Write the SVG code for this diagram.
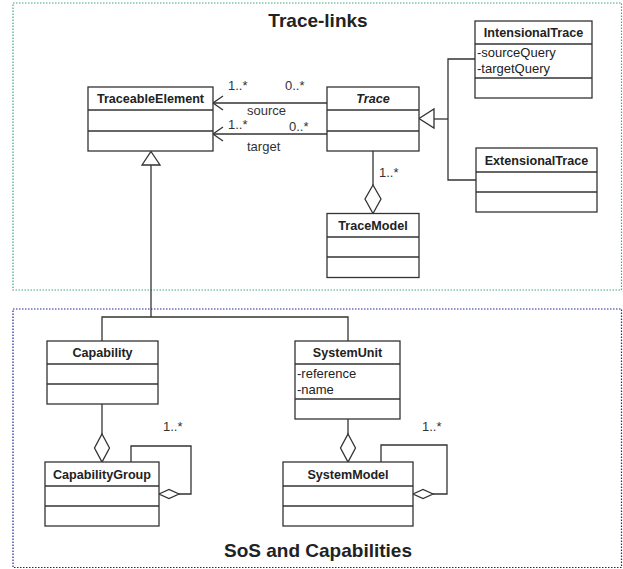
<svg xmlns="http://www.w3.org/2000/svg" width="623" height="569" viewBox="0 0 623 569">
<style>
.box{fill:#fff;stroke:#333;stroke-width:1.3}
.ln{fill:none;stroke:#333;stroke-width:1.3}
.cn{font-family:"Liberation Sans",Arial,sans-serif;font-weight:bold;font-size:12.6px;fill:#222;text-anchor:middle}
.at{font-family:"Liberation Sans",Arial,sans-serif;font-size:13px;fill:#222}
.lb{font-family:"Liberation Sans",Arial,sans-serif;font-size:13px;fill:#333}
.ti{font-family:"Liberation Sans",Arial,sans-serif;font-weight:bold;font-size:19px;fill:#222;text-anchor:middle}
.open{fill:none;stroke:#333;stroke-width:1.3}
.tri{fill:#fff;stroke:#333;stroke-width:1.3}
.dia{fill:#fff;stroke:#333;stroke-width:1.3}
</style>
<rect width="623" height="569" fill="#fff"/>
<g id="pkg-trace">
<rect x="13" y="3" width="608.5" height="287" fill="none" stroke="#3daa78" stroke-width="1.2" stroke-dasharray="1.5 1.5"/>
<text class="ti" x="318" y="27">Trace-links</text>
</g>
<g id="pkg-sos">
<rect x="13" y="309" width="608.5" height="258.5" fill="none" stroke="#22229a" stroke-width="1.2" stroke-dasharray="1.5 1.5"/>
<text class="ti" x="318" y="557">SoS and Capabilities</text>
</g>
<g id="connectors">
<!-- source / target associations -->
<line class="ln" x1="213" y1="103" x2="327" y2="103"/>
<polyline class="open" points="223,96 213,103 223,110"/>
<line class="ln" x1="213" y1="134" x2="327" y2="134"/>
<polyline class="open" points="223,127 213,134 223,141"/>
<text class="lb" x="228" y="90">1..*</text>
<text class="lb" x="285" y="90">0..*</text>
<text class="lb" x="247" y="115">source</text>
<text class="lb" x="228" y="129">1..*</text>
<text class="lb" x="289" y="131">0..*</text>
<text class="lb" x="247" y="151">target</text>
<!-- generalization to Trace -->
<polyline class="ln" points="475,59 448,59 448,180 476,180"/>
<line class="ln" x1="434" y1="119" x2="448" y2="119"/>
<polygon class="tri" points="419,118.5 434,109 434,128"/>
<!-- Trace - TraceModel aggregation -->
<line class="ln" x1="373" y1="151" x2="373" y2="185"/>
<polygon class="dia" points="373,185 381,199 373,213.5 365,199"/>
<text class="lb" x="379" y="177">1..*</text>
<!-- generalization to TraceableElement -->
<polyline class="ln" points="151,165 151,317"/>
<polyline class="ln" points="102,341 102,317 348,317 348,341"/>
<polygon class="tri" points="151,151.5 160,165 142,165"/>
<!-- Capability - CapabilityGroup -->
<line class="ln" x1="102" y1="404" x2="102" y2="434"/>
<polygon class="dia" points="102,434 109.5,448 102,462 94.5,448"/>
<polyline class="ln" points="131,462 131,446 191,446 191,494 179,494"/>
<polygon class="dia" points="159,494 169,489.5 179,494 169,498.5"/>
<text class="lb" x="163" y="431">1..*</text>
<!-- SystemUnit - SystemModel -->
<line class="ln" x1="348" y1="419" x2="348" y2="434"/>
<polygon class="dia" points="348,434 355.5,448 348,462 340.5,448"/>
<polyline class="ln" points="381,462 381,445 447,445 447,494 433,494"/>
<polygon class="dia" points="413,494 423,489.5 433,494 423,498.5"/>
<text class="lb" x="422" y="431">1..*</text>
</g>
<g id="TraceableElement">
<rect class="box" x="88" y="87" width="125" height="64"/>
<line class="ln" x1="88" y1="110" x2="213" y2="110"/>
<line class="ln" x1="88" y1="131" x2="213" y2="131"/>
<text class="cn" x="150.5" y="103">TraceableElement</text>
</g>
<g id="Trace">
<rect class="box" x="327" y="87" width="92" height="64"/>
<line class="ln" x1="327" y1="110" x2="419" y2="110"/>
<line class="ln" x1="327" y1="131" x2="419" y2="131"/>
<text class="cn" x="373" y="103" font-style="italic">Trace</text>
</g>
<g id="IntensionalTrace">
<rect class="box" x="475" y="21" width="117" height="77"/>
<line class="ln" x1="475" y1="44" x2="592" y2="44"/>
<line class="ln" x1="475" y1="78" x2="592" y2="78"/>
<text class="cn" x="533.5" y="37">IntensionalTrace</text>
<text class="at" x="477" y="57">-sourceQuery</text>
<text class="at" x="477" y="73">-targetQuery</text>
</g>
<g id="ExtensionalTrace">
<rect class="box" x="476" y="148" width="121" height="64"/>
<line class="ln" x1="476" y1="172" x2="597" y2="172"/>
<line class="ln" x1="476" y1="192" x2="597" y2="192"/>
<text class="cn" x="536.5" y="164.5">ExtensionalTrace</text>
</g>
<g id="TraceModel">
<rect class="box" x="327" y="213.5" width="92" height="64"/>
<line class="ln" x1="327" y1="237" x2="419" y2="237"/>
<line class="ln" x1="327" y1="257" x2="419" y2="257"/>
<text class="cn" x="373" y="230">TraceModel</text>
</g>
<g id="Capability">
<rect class="box" x="47" y="341" width="111" height="63"/>
<line class="ln" x1="47" y1="364" x2="158" y2="364"/>
<line class="ln" x1="47" y1="384" x2="158" y2="384"/>
<text class="cn" x="102.5" y="357">Capability</text>
</g>
<g id="SystemUnit">
<rect class="box" x="295" y="341" width="105" height="78"/>
<line class="ln" x1="295" y1="364" x2="400" y2="364"/>
<line class="ln" x1="295" y1="399" x2="400" y2="399"/>
<text class="cn" x="347.5" y="357">SystemUnit</text>
<text class="at" x="297" y="378">-reference</text>
<text class="at" x="297" y="394">-name</text>
</g>
<g id="CapabilityGroup">
<rect class="box" x="45" y="462" width="114" height="64"/>
<line class="ln" x1="45" y1="486" x2="159" y2="486"/>
<line class="ln" x1="45" y1="506" x2="159" y2="506"/>
<text class="cn" x="102" y="479">CapabilityGroup</text>
</g>
<g id="SystemModel">
<rect class="box" x="283" y="462" width="130" height="64"/>
<line class="ln" x1="283" y1="486" x2="413" y2="486"/>
<line class="ln" x1="283" y1="506" x2="413" y2="506"/>
<text class="cn" x="348" y="479">SystemModel</text>
</g>
</svg>
